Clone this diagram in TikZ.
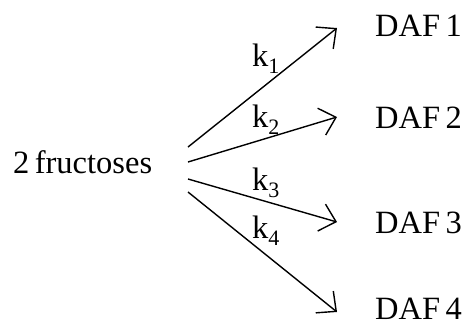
\documentclass[tikz,border=0pt]{standalone}
\usepackage{fontspec}
\setmainfont{Liberation Serif}
\usetikzlibrary{arrows.meta}
\begin{document}
\begin{tikzpicture}[x=1pt,y=-1pt,
  lbl/.style={anchor=base west,inner sep=0pt,font=\fontsize{32.5}{32.5}\selectfont},
  arr/.style={line width=1.4pt,-{Straight Barb[length=15pt,width=28pt,line width=1.4pt]}}]
\useasboundingbox (0,0) rectangle (464,325);
\newcommand{\ksub}[1]{k\raisebox{-7pt}{\fontsize{22}{22}\selectfont #1}}
\node[lbl] (src) at (13,173) {2\,fructoses};
\node[lbl] (d1) at (375,36) {DAF\,1};
\node[lbl] (d2) at (375,128) {DAF\,2};
\node[lbl] (d3) at (375,233) {DAF\,3};
\node[lbl] (d4) at (375,319) {DAF\,4};
\node[lbl] (k1) at (252,66) {\ksub{1}};
\node[lbl] (k2) at (252,127) {\ksub{2}};
\node[lbl] (k3) at (252,190) {\ksub{3}};
\node[lbl] (k4) at (252,238) {\ksub{4}};
\coordinate (s1) at (188,147);
\coordinate (s2) at (188,162);
\coordinate (s3) at (188,179);
\coordinate (s4) at (188,192);
\coordinate (e1) at (337,28);
\coordinate (e2) at (337,117);
\coordinate (e3) at (337,222);
\coordinate (e4) at (337,312);
\draw[arr] (s1) -- (e1);
\draw[arr] (s2) -- (e2);
\draw[arr] (s3) -- (e3);
\draw[arr] (s4) -- (e4);
\end{tikzpicture}
\end{document}
